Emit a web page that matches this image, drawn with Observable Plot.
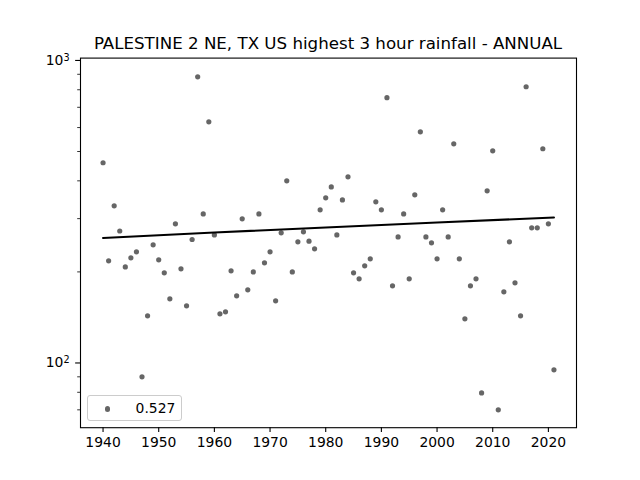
<!DOCTYPE html>
<html>
<head>
<meta charset="utf-8">
<script src="https://cdn.jsdelivr.net/npm/d3@7"></script>
<script src="https://cdn.jsdelivr.net/npm/@observablehq/plot@0.6"></script>
<style>
html,body{margin:0;padding:0;background:#fff;}
#chart{position:relative;width:640px;height:480px;font-family:"DejaVu Sans",sans-serif;}
#legend{position:absolute;left:87px;top:395px;width:93px;height:24px;border:1px solid #ccc;border-radius:3px;background:rgba(255,255,255,.8);font-size:13.9px;color:#000;}
#legend i{position:absolute;left:16.6px;top:10.4px;width:5.2px;height:5.2px;border-radius:50%;background:rgba(0,0,0,.6);}
#legend span{position:absolute;left:47.6px;top:3.5px;line-height:16px;}
</style>
</head>
<body>
<div id="chart"></div>
<script>
const chartTitle = "PALESTINE 2 NE, TX US highest 3 hour rainfall - ANNUAL";
const legendLabel = "0.527";
const years = d3.range(1940, 2022);
const rainfall = [
  459,217.6,330.7,273,207.8,222.6,233,90,143.2,245.8,
  219.3,198.6,162.9,288.4,204.7,154.5,255.9,883,311,627,
  265,145.4,147.6,201.7,166.7,299.6,174.5,200,311,214.3,
  233,160.5,269.3,400,200,251.5,271.4,252.7,238.4,320.8,
  351.6,382,265,346,412.5,198.6,189.7,209.5,220.9,341,
  320.8,753,179.9,261,311,189.7,359.6,581,261,249.6,
  220.9,320.8,261,530,220.9,139.9,179.9,189.7,79.6,370.7,
  502.7,70,171.9,251.5,184,143.2,818.5,279.8,279.8,510.6,
  288.4,94.9
];
const trendYears = [1940,1960,1980,2000,2021];
const trendValues = [259,269.8,280.5,291.3,302.6];
const xTicks = [1940,1950,1960,1970,1980,1990,2000,2010,2020];
const yMajor = [100,1000];
const yMajorExponents = {100:"2",1000:"3"};
const yMinor = [70,80,90,200,300,400,500,600,700,800,900];

const points = years.map((y,i)=>({year:y,value:rainfall[i]}));
const trend = trendYears.map((y,i)=>({year:y,value:trendValues[i]}));

const plot = Plot.plot({
  width:640,height:480,
  marginLeft:80,marginRight:64,marginTop:57.6,marginBottom:52.8,
  style:{fontFamily:"DejaVu Sans",fontSize:"13.9px",background:"#fff",color:"#000"},
  x:{domain:[1935.95,2025.05]},
  y:{type:"log",domain:[61.1,1018]},
  marks:[
    Plot.dot(points,{x:"year",y:"value",r:2.6,fill:"#000",fillOpacity:0.6,stroke:"none"}),
    Plot.line(trend,{x:"year",y:"value",stroke:"#000",strokeWidth:2.08}),
    Plot.frame({stroke:"#000",strokeWidth:1.1}),
    Plot.axisX({ticks:xTicks,tickFormat:d=>String(d),tickSize:4.86,tickPadding:4.5,label:null,strokeWidth:1.1,fontSize:13.9}),
    Plot.axisY({ticks:yMajor,tickFormat:d=>"10^"+yMajorExponents[d],tickSize:4.86,tickPadding:6,label:null,strokeWidth:1.1,fontSize:13.9}),
    Plot.axisY({ticks:yMinor,tickFormat:()=>"",tickSize:2.8,label:null,strokeWidth:0.8}),
    Plot.text([chartTitle],{frameAnchor:"top",text:d=>d,lineAnchor:"bottom",dy:-9,dx:-0.5,fontSize:16.67,fill:"#000"})
  ]
});
// Turn "10^2" tick labels into a base with a raised exponent, as real text.
d3.select(plot).selectAll("text").each(function(){
  const s = this.textContent;
  if (s.startsWith("10^")) {
    const [base, exp] = s.split("^");
    const t = d3.select(this).text(base);
    t.append("tspan").attr("dy","-0.42em").attr("font-size","9.7px").text(exp);
  }
});
const chart = document.getElementById("chart");
chart.appendChild(plot);
const lg = document.createElement("div");
lg.id = "legend";
const dotEl = document.createElement("i");
const lab = document.createElement("span");
lab.textContent = legendLabel;
lg.append(dotEl, lab);
chart.appendChild(lg);
</script>
</body>
</html>
